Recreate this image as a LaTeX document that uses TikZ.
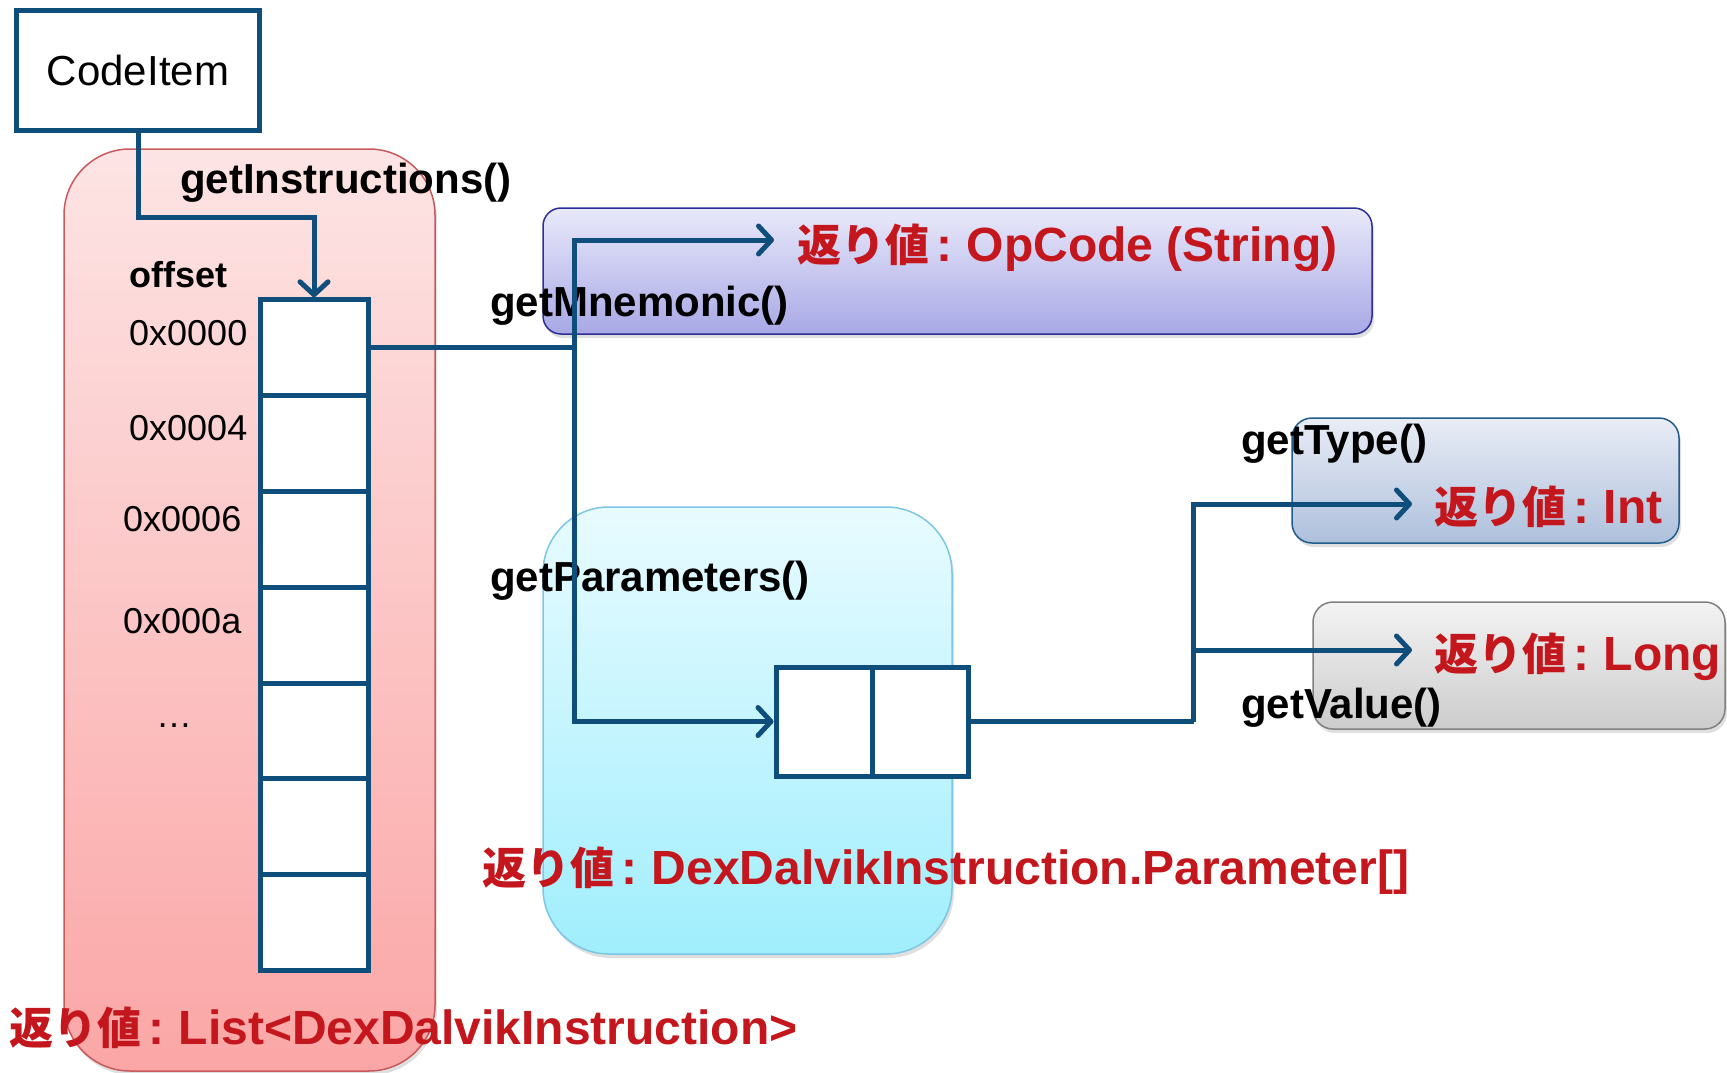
\documentclass[tikz,border=0pt]{standalone}
\usepackage{fontspec}
\setmainfont{Liberation Sans}
\newfontfamily\cjk{Noto Sans CJK JP}
\usepackage{tikz}
\usetikzlibrary{positioning,arrows.meta,shadows}
\definecolor{cazul}{HTML}{0F4D7B}
\definecolor{crojo}{HTML}{C4161D}
\definecolor{crosaA}{HTML}{FDE4E4}
\definecolor{crosaB}{HTML}{FBA6A6}
\definecolor{crosaL}{HTML}{C65A5C}
\definecolor{cmoradoA}{HTML}{E9E9FA}
\definecolor{cmoradoB}{HTML}{A8A8E6}
\definecolor{cmoradoL}{HTML}{2E2F96}
\definecolor{ccianA}{HTML}{E8FBFF}
\definecolor{ccianB}{HTML}{A0EEFD}
\definecolor{ccianL}{HTML}{7CC6E6}
\definecolor{cgrisazA}{HTML}{E9EDF6}
\definecolor{cgrisazB}{HTML}{AEC0DC}
\definecolor{cgrisazL}{HTML}{1F5C8C}
\definecolor{cgrisA}{HTML}{F3F3F3}
\definecolor{cgrisB}{HTML}{CCCCCC}
\definecolor{cgrisL}{HTML}{808080}
\newcommand{\retval}[1]{{\cjk\fontsize{44}{50}\selectfont 返り値}\hspace{0.15em}:\hspace{0.3em}#1}

\begin{document}
\begin{tikzpicture}[x=1pt,y=-1pt,
    caja/.style={rounded corners=#1, line width=1.5pt, inner sep=0,
      drop shadow={shadow xshift=2pt, shadow yshift=-4pt, opacity=0.25}},
    celda/.style={draw=cazul, fill=white, line width=5pt, inner sep=0,
      minimum width=108, minimum height=95.8},
    linea/.style={draw=cazul, line width=5pt},
    flecha/.style={linea, -{Straight Barb[length=13pt,width=28pt,round]}},
    metodo/.style={font=\bfseries\fontsize{42}{46}\selectfont, inner sep=0, anchor=base west},
    retorno/.style={font=\bfseries\fontsize{48}{52}\selectfont, text=crojo, inner sep=0, anchor=base west},
    dir/.style={font=\fontsize{36}{40}\selectfont, inner sep=0, anchor=base west}]
  \useasboundingbox (0,0) rectangle (1727,1073);

  \node[caja=66pt, draw=crosaL, top color=crosaA, bottom color=crosaB,
    minimum width=371, minimum height=922] (lista) at (249.5,610) {};
  \node[caja=18pt, draw=cmoradoL, top color=cmoradoA, bottom color=cmoradoB,
    minimum width=829, minimum height=126] (mnem) at (957.5,271) {};
  \node[caja=66pt, draw=ccianL, top color=ccianA, bottom color=ccianB,
    minimum width=409, minimum height=447] (params) at (747.5,730.5) {};
  \node[caja=20pt, draw=cgrisazL, top color=cgrisazA, bottom color=cgrisazB,
    minimum width=387, minimum height=125] (tipo) at (1485.5,480.5) {};
  \node[caja=20pt, draw=cgrisL, top color=cgrisA, bottom color=cgrisB,
    minimum width=412, minimum height=127] (valor) at (1519,665.5) {};

  \node[draw=cazul, fill=white, line width=5pt, minimum width=243.5, minimum height=119,
    font=\fontsize{42}{46}\selectfont] (codeitem) at (138,70.5) {CodeItem};
  \foreach \i in {0,...,6}
    \node[celda] (c\i) at (314,{347.7+95.8*\i}) {};
  \node[celda, minimum width=96, minimum height=109] (p0) at (824,721.5) {};
  \node[celda, minimum width=96, minimum height=109] (p1) at (920,721.5) {};

  \node[metodo] (getinst) at (180,193) {getInstructions()};
  \node[metodo, font=\bfseries\fontsize{36}{40}\selectfont] (offset) at (129,287) {offset};
  \node[dir] (a0) at (129,345) {0x0000};
  \node[dir] (a1) at (129,440) {0x0004};
  \node[dir] (a2) at (123,531) {0x0006};
  \node[dir] (a3) at (123,633) {0x000a};
  \node[dir] (a4) at (156,727) {…};
  \node[metodo] (getmnem) at (490,316) {getMnemonic()};
  \node[retorno] (rop) at (797,261) {\retval{OpCode (String)}};
  \node[metodo] (getparam) at (490,591) {getParameters()};
  \node[retorno] (rparam) at (482,884) {\retval{DexDalvikInstruction.Parameter[]}};
  \node[retorno] (rlista) at (9,1044) {\retval{List<DexDalvikInstruction>}};
  \node[metodo] (gettype) at (1241,454) {getType()};
  \node[retorno] (rint) at (1434,523) {\retval{Int}};
  \node[metodo] (getval) at (1241,718) {getValue()};
  \node[retorno] (rlong) at (1434,670) {\retval{Long}};

  \coordinate (puntaop) at (774,240);
  \coordinate (puntatipo) at (1412,504);
  \coordinate (puntavalor) at (1412,650);
  \path (c0.east) ++(204,0) coordinate (rama);
  \path (p1.east) ++(223,0) coordinate (nudo);

  \draw[flecha] (codeitem.south) -- ++(0,85) -| (c0.north);
  \draw[linea] (c0.east) -- (rama);
  \draw[flecha] (rama) |- (puntaop);
  \draw[flecha] (rama) |- (p0.west);
  \draw[linea] (p1.east) -- (nudo);
  \draw[flecha] (nudo) |- (puntatipo);
  \draw[flecha] (nudo) |- (puntavalor);
\end{tikzpicture}
\end{document}
